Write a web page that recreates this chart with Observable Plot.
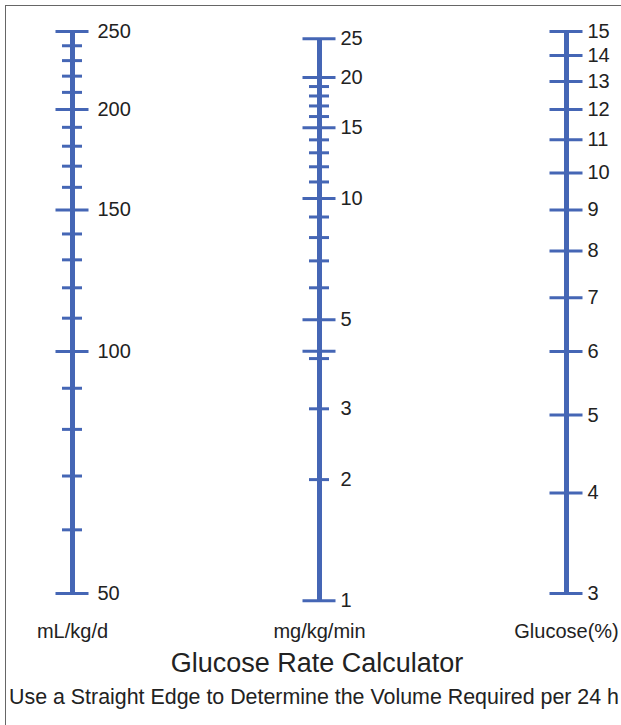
<!DOCTYPE html>
<html><head><meta charset="utf-8">
<script src="https://cdn.jsdelivr.net/npm/d3@7"></script>
<script src="https://cdn.jsdelivr.net/npm/@observablehq/plot@0.6"></script>
<style>
body{margin:0;background:#fff;font-family:"Liberation Sans",Arial,sans-serif;}
#wrap{position:relative;width:621px;height:725px;overflow:hidden;background:#fff}
#frame{position:absolute;left:5px;top:5px;width:700px;height:740px;border:1px solid #666;box-sizing:border-box}
#chart{position:absolute;left:0;top:0}
#title{position:absolute;left:0;width:634px;top:648px;text-align:center;font-size:27px;line-height:30px;color:#222}
#sub{position:absolute;left:9px;top:685px;white-space:nowrap;font-size:21.4px;line-height:24px;color:#222}
</style></head>
<body>
<div id="wrap">
  <div id="frame"></div>
  <div id="chart"></div>
  <div id="title">Glucose Rate Calculator</div>
  <div id="sub">Use a Straight Edge to Determine the Volume Required per 24 h</div>
</div>
<script>
// ---- data ----
const axisNames = ["mL/kg/d", "mg/kg/min", "Glucose(%)"];
const volumeTicks = [50, 60, 70, 80, 90, 100, 110, 120, 130, 140, 150, 160, 170, 180, 190, 200, 210, 220, 230, 240, 250];
const volumeMajor = [50, 100, 150, 200, 250];
const volumeLabels = [50, 100, 150, 200, 250];
const rateTicks = [1, 2, 3, 4, 4.17, 5, 6, 7, 8, 9, 10, 11, 12, 13, 14, 15, 16, 17, 18, 19, 20, 25];
const rateMajor = [1, 4.17, 5, 10, 15, 20, 25];
const rateLabels = [1, 2, 3, 5, 10, 15, 20, 25];
const glucoseTicks = [3, 4, 5, 6, 7, 8, 9, 10, 11, 12, 13, 14, 15];
const glucoseMajor = [3, 4, 5, 6, 7, 8, 9, 10, 11, 12, 13, 14, 15];
const glucoseLabels = [3, 4, 5, 6, 7, 8, 9, 10, 11, 12, 13, 14, 15];
const axisExtent = {"mL/kg/d": [50, 250], "mg/kg/min": [1, 25], "Glucose(%)": [3, 15]};

// nomogram transforms onto a shared log scale (volume units)
// rate (mg/kg/min) = volume (mL/kg/d) * glucose% / 144
const toPos = {
  "mL/kg/d": v => v,
  "Glucose(%)": g => g * 50 / 3,
  "mg/kg/min": r => Math.sqrt(2400 * r)
};

const color = "#4566b5";
function rows(axis, ticks, major) {
  return ticks.map(v => ({axis, value: v, pos: toPos[axis](v), long: major.includes(v)}));
}
const tickRows = [
  ...rows("mL/kg/d", volumeTicks, volumeMajor),
  ...rows("mg/kg/min", rateTicks, rateMajor),
  ...rows("Glucose(%)", glucoseTicks, glucoseMajor)
];
const labelLeft = volumeLabels.map(v => ({axis: "mL/kg/d", value: v, pos: toPos["mL/kg/d"](v)}));
const labelOther = [
  ...rateLabels.map(v => ({axis: "mg/kg/min", value: v, pos: toPos["mg/kg/min"](v)})),
  ...glucoseLabels.map(v => ({axis: "Glucose(%)", value: v, pos: toPos["Glucose(%)"](v)}))
];
const axisRows = axisNames.map(a => ({axis: a, lo: toPos[a](axisExtent[a][0]), hi: toPos[a](axisExtent[a][1])}));

const chart = Plot.plot({
  width: 621,
  height: 645,
  margin: 0,
  style: {fontFamily: '"Liberation Sans", Arial, sans-serif', fontSize: "20px", color: "#222", background: "transparent"},
  x: {type: "band", domain: axisNames, range: [55.5, 582.5], paddingInner: 1 - 33 / 247, paddingOuter: 0, round: false, axis: null},
  y: {type: "log", domain: [50, 250], range: [593, 31], axis: null},
  marks: [
    Plot.ruleX(axisRows, {x: "axis", y1: "lo", y2: "hi", stroke: color, strokeWidth: 5}),
    Plot.tickY(tickRows.filter(d => d.long), {x: "axis", y: "pos", stroke: color, strokeWidth: 3}),
    Plot.tickY(tickRows.filter(d => !d.long), {x: "axis", y: "pos", stroke: color, strokeWidth: 3, insetLeft: 6.5, insetRight: 6.5}),
    Plot.text(labelLeft, {x: "axis", y: "pos", text: d => String(d.value), textAnchor: "start", dx: 25, fontSize: 20, fill: "#222"}),
    Plot.text(labelOther, {x: "axis", y: "pos", text: d => String(d.value), textAnchor: "start", dx: 21, fontSize: 20, fill: "#222"}),
    Plot.text(axisNames, {x: d => d, text: d => d, frameAnchor: "bottom", lineAnchor: "bottom", dy: -8, fontSize: 20, fill: "#222"})
  ]
});
document.getElementById("chart").appendChild(chart);
</script>
</body></html>
